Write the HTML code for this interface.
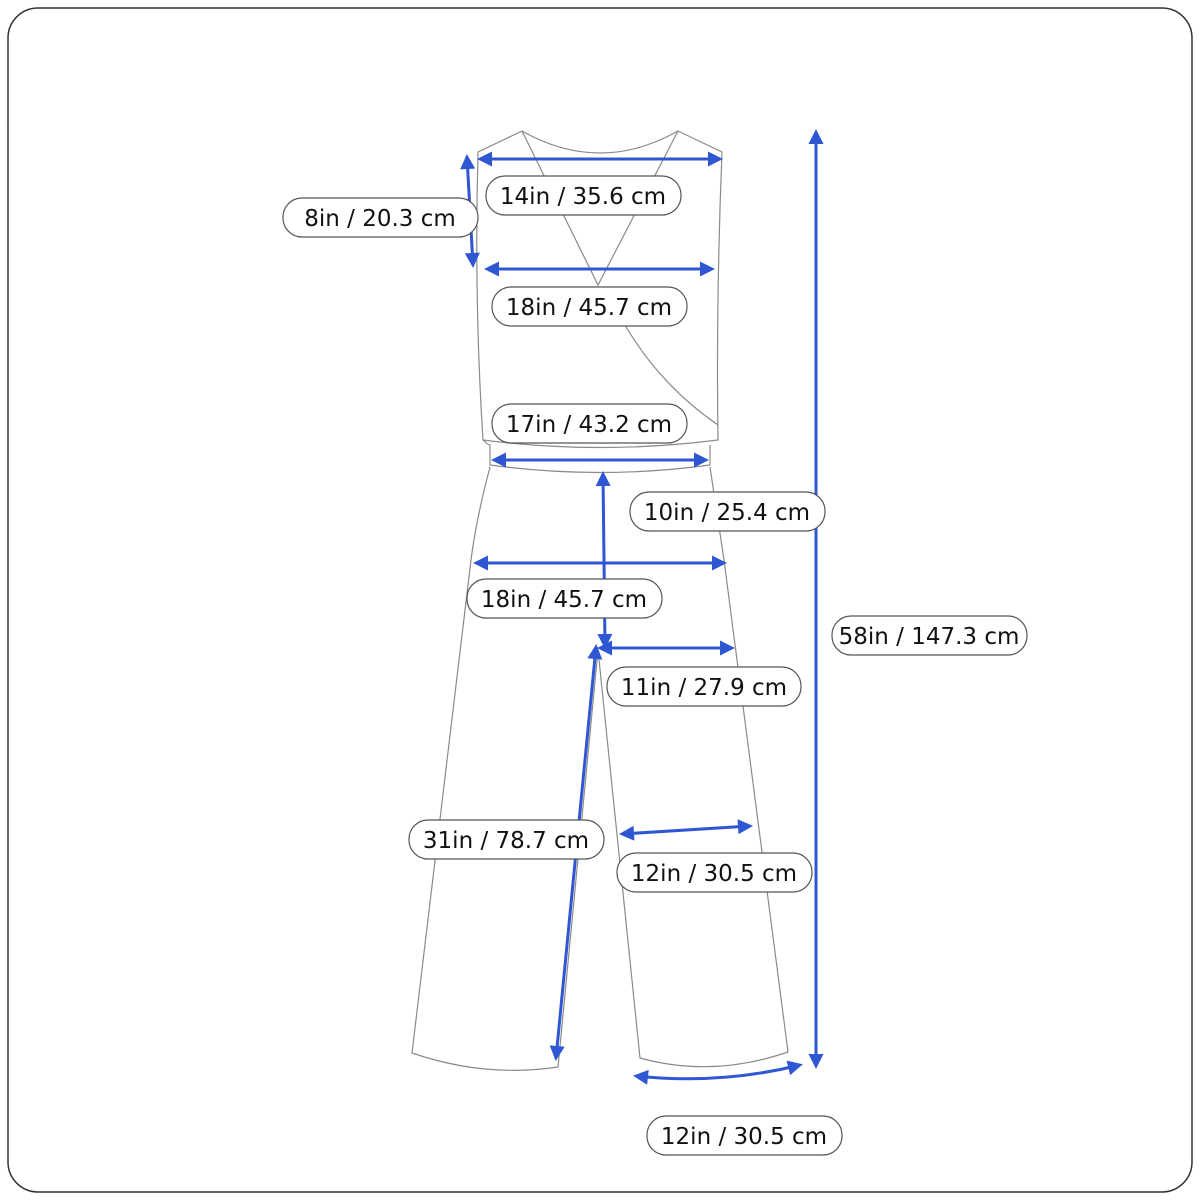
<!DOCTYPE html>
<html><head><style>
html,body{margin:0;padding:0;background:#fff;}
svg{display:block}
text{font-family:"DejaVu Sans","Liberation Sans",sans-serif;font-size:23px;fill:#111;}
</style></head><body>
<svg width="1200" height="1200" viewBox="0 0 1200 1200">
<defs>
<marker id="a" viewBox="0 0 10 10" refX="8" refY="5" markerWidth="5.5" markerHeight="5" orient="auto-start-reverse">
<path d="M0,0 L10,5 L0,10 z" fill="#2f57d4"/></marker>
</defs>
<rect x="8" y="8" width="1184" height="1184" rx="30" fill="#fff" stroke="#333" stroke-width="1.5"/>
<g fill="none" stroke="#8a8a8a" stroke-width="1.2">
<path d="M478,152 L522,131 Q600,175 678,131 L722,152 Q716,300 718,440 Q600,455 483,440 Q474,300 478,152 Z"/>
<path d="M522,131 L598,285 L678,131"/>
<path d="M625,325 Q660,385 718,425"/>
<path d="M483,440 Q488,445 490,445 L490,465 Q600,480 710,465 L710,445"/>
<path d="M490,467 Q476,520 471,560 L412,1053 Q485,1078 558,1067 L598,650 L640,1058 Q712,1078 788,1052 L724,560 Q718,520 710,467"/>
</g>
<g stroke="#2f57d4" stroke-width="3" fill="none" marker-start="url(#a)" marker-end="url(#a)">
<line x1="480" y1="159" x2="720" y2="159"/>
<line x1="467" y1="157" x2="473" y2="265"/>
<line x1="487" y1="269" x2="712" y2="269"/>
<line x1="494" y1="460" x2="706" y2="460"/>
<line x1="603" y1="474" x2="605" y2="646"/>
<line x1="476" y1="563" x2="724" y2="563"/>
<line x1="600" y1="648" x2="732" y2="648"/>
<line x1="596" y1="647" x2="556" y2="1058"/>
<line x1="622" y1="834" x2="750" y2="826"/>
<path d="M636,1076 Q720,1085 800,1065"/>
<line x1="816" y1="132" x2="816" y2="1066"/>
</g>
<g fill="#fff" stroke="#555" stroke-width="1.2">
<rect x="486" y="176" width="195" height="39" rx="19"/>
<rect x="283" y="198" width="195" height="39" rx="19"/>
<rect x="492" y="287" width="195" height="39" rx="19"/>
<rect x="492" y="404" width="195" height="39" rx="19"/>
<rect x="630" y="492" width="195" height="39" rx="19"/>
<rect x="467" y="579" width="195" height="39" rx="19"/>
<rect x="832" y="616" width="195" height="39" rx="19"/>
<rect x="607" y="667" width="194" height="39" rx="19"/>
<rect x="409" y="820" width="195" height="39" rx="19"/>
<rect x="617" y="853" width="195" height="39" rx="19"/>
<rect x="647" y="1116" width="195" height="39" rx="19"/>
</g>
<g text-anchor="middle">
<text x="583" y="204">14in / 35.6 cm</text>
<text x="380" y="226">8in / 20.3 cm</text>
<text x="589" y="315">18in / 45.7 cm</text>
<text x="589" y="432">17in / 43.2 cm</text>
<text x="727" y="520">10in / 25.4 cm</text>
<text x="564" y="607">18in / 45.7 cm</text>
<text x="929" y="644">58in / 147.3 cm</text>
<text x="704" y="695">11in / 27.9 cm</text>
<text x="506" y="848">31in / 78.7 cm</text>
<text x="714" y="881">12in / 30.5 cm</text>
<text x="744" y="1144">12in / 30.5 cm</text>
</g>
</svg>
</body></html>
